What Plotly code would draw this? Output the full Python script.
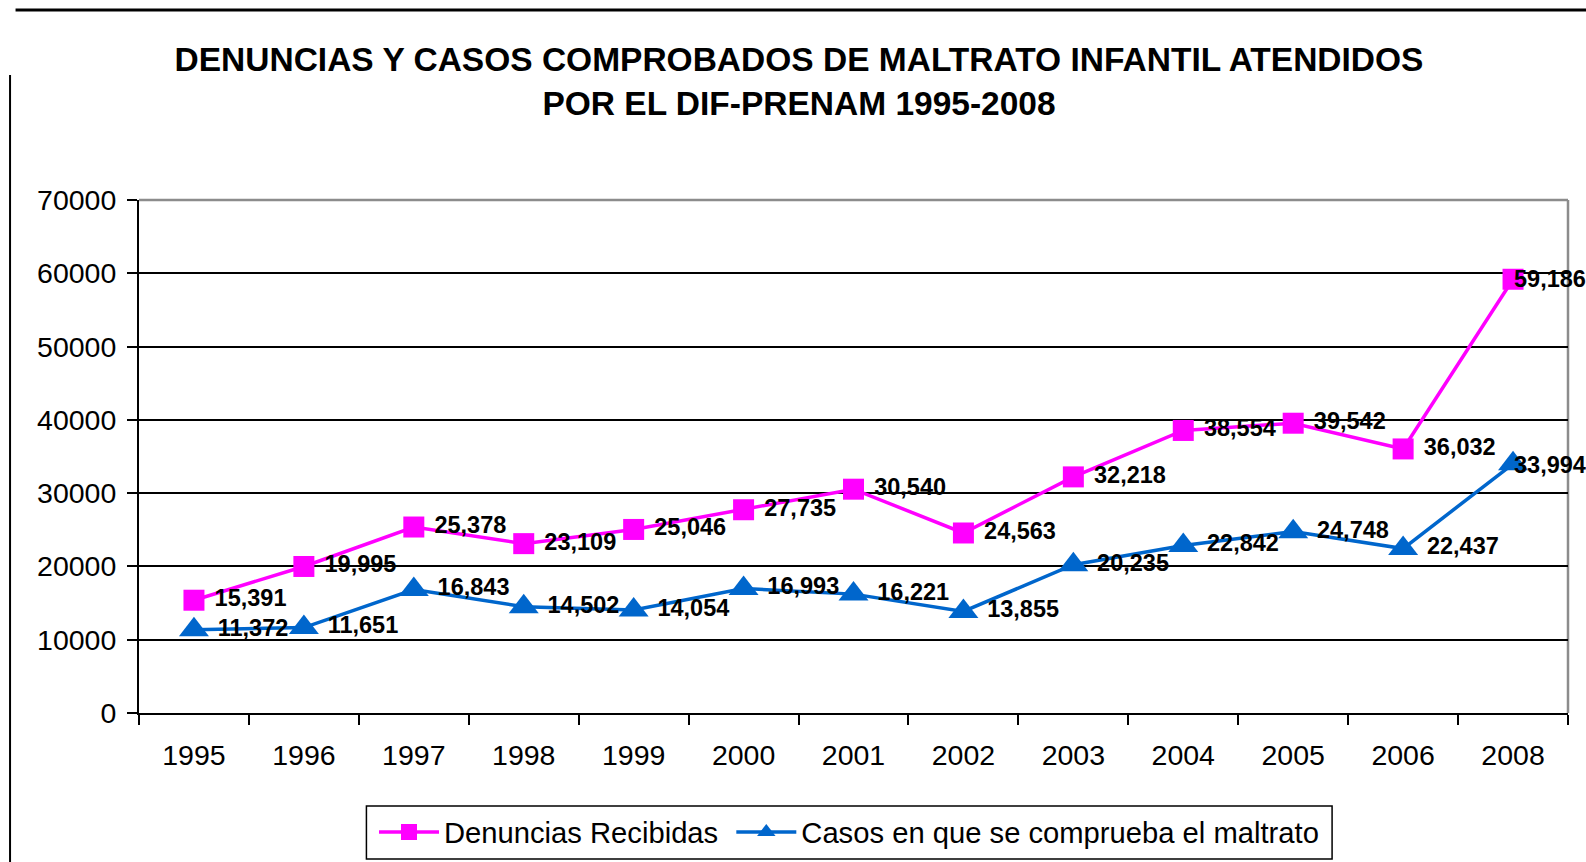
import plotly.graph_objects as go

years = ["1995", "1996", "1997", "1998", "1999", "2000", "2001", "2002",
         "2003", "2004", "2005", "2006", "2008"]
denuncias = [15391, 19995, 25378, 23109, 25046, 27735, 30540, 24563,
             32218, 38554, 39542, 36032, 59186]
casos = [11372, 11651, 16843, 14502, 14054, 16993, 16221, 13855,
         20235, 22842, 24748, 22437, 33994]
y_ticks = [0, 10000, 20000, 30000, 40000, 50000, 60000, 70000]

title_text = ("<b>DENUNCIAS Y CASOS COMPROBADOS DE MALTRATO INFANTIL ATENDIDOS"
              "<br>POR EL DIF-PRENAM 1995-2008</b>")

W, H = 1586, 862
# plot area in pixels
Ls, Rs, Ts, Bs = 138.5, 1568, 200, 713

def px_x(p):
    return (p - Ls) / (Rs - Ls)

def px_y(p):
    return (Bs - p) / (Bs - Ts)

FONT = "Liberation Sans, Arial, sans-serif"
LBL = dict(family=FONT, size=23.5, color="black", weight="bold")

def labels(vals):
    return ["\u00a0" + f"{v:,}" for v in vals[:-1]] + [""]

fig = go.Figure()
fig.add_trace(go.Scatter(
    x=years, y=denuncias, name="Denuncias Recibidas\u00a0",
    mode="lines+markers+text",
    line=dict(color="#FF00FF", width=3.5),
    marker=dict(symbol="square", size=21, color="#FF00FF"),
    text=labels(denuncias), textposition="middle right",
    textfont=LBL, cliponaxis=False,
))
fig.add_trace(go.Scatter(
    x=years, y=casos, name="Casos en que se comprueba el maltrato",
    mode="lines+markers+text",
    line=dict(color="#0066CC", width=3.5),
    marker=dict(symbol="triangle-up", size=26, color="#0066CC"),
    text=labels(casos), textposition="middle right",
    textfont=LBL, cliponaxis=False,
))

last_idx = len(years) - 1  # category index of the last year on the axis
annotations = [
    dict(x=last_idx, y=denuncias[-1], xref="x", yref="y",
         text=f"{denuncias[-1]:,}", showarrow=False, xanchor="left",
         yanchor="middle", xshift=-1, font=LBL),
    dict(x=last_idx, y=casos[-1], xref="x", yref="y",
         text=f"{casos[-1]:,}", showarrow=False, xanchor="left",
         yanchor="middle", xshift=-1, yshift=-1, font=LBL),
]

fig.update_layout(
    width=W, height=H,
    margin=dict(l=Ls, r=W - Rs, t=Ts, b=H - Bs),
    paper_bgcolor="white", plot_bgcolor="white",
    title=dict(text=title_text, x=799 / W, xanchor="center",
               y=1 - 71 / H, yanchor="middle", yref="container",
               font=dict(family=FONT, size=33.5, color="black")),
    showlegend=True,
    legend=dict(orientation="h", x=374 / W, xanchor="left", xref="container",
                y=1 - 832 / H, yanchor="middle", yref="container",
                font=dict(family=FONT, size=29.2, color="black"),
                borderwidth=0, bgcolor="rgba(0,0,0,0)",
                itemwidth=60, traceorder="normal"),
    annotations=annotations,
    xaxis=dict(type="category", range=[-0.5, 12.5],
               showline=True, linecolor="black", linewidth=2,
               ticks="outside", tickson="boundaries", ticklen=10,
               tickwidth=2, tickcolor="black", showgrid=False,
               tickfont=dict(family=FONT, size=28.5, color="black"),
               ticklabelstandoff=16),
    yaxis=dict(range=[0, 70000], tickvals=y_ticks, tickformat="d",
               showline=True, linecolor="black", linewidth=2,
               ticks="outside", ticklen=10, tickwidth=2, tickcolor="black",
               showgrid=True, gridcolor="black", gridwidth=1.5,
               zeroline=False,
               tickfont=dict(family=FONT, size=28.5, color="black"),
               ticklabelstandoff=5),
    shapes=[
        dict(type="line", xref="paper", yref="paper", x0=0, x1=1, y0=1, y1=1,
             line=dict(color="#8c8c8c", width=2.5), layer="between"),
        dict(type="line", xref="paper", yref="paper", x0=1, x1=1, y0=0, y1=1,
             line=dict(color="#8c8c8c", width=2.5), layer="between"),
        dict(type="line", xref="paper", yref="paper",
             x0=px_x(15), x1=px_x(1600), y0=px_y(10), y1=px_y(10),
             line=dict(color="black", width=3), layer="above"),
        dict(type="line", xref="paper", yref="paper",
             x0=px_x(9.5), x1=px_x(9.5), y0=px_y(75), y1=px_y(880),
             line=dict(color="black", width=2), layer="above"),
        dict(type="rect", xref="paper", yref="paper",
             x0=px_x(366), x1=px_x(1332), y0=px_y(806), y1=px_y(859),
             line=dict(color="black", width=1.5), layer="below"),
    ],
)

fig.write_html(
    "out.html",
    config={"displayModeBar": False},
    post_script="document.body.style.margin='0';document.body.style.overflow='hidden';",
)
